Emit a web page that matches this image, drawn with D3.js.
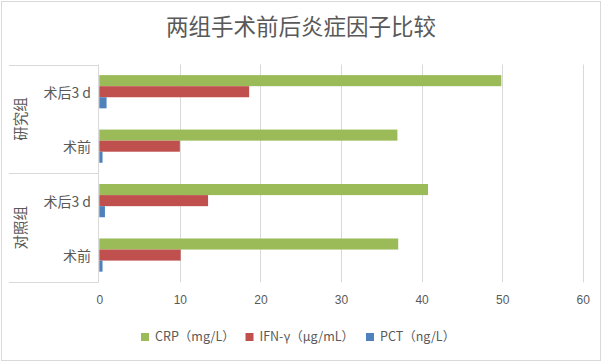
<!DOCTYPE html>
<html>
<head>
<meta charset="utf-8">
<script src="https://d3js.org/d3.v7.min.js"></script>
<style>
  body { margin: 0; background: #fff; }
  svg { font-family: "Noto Sans CJK SC", "Noto Sans", sans-serif; }
  .grid line { stroke: #d9d9d9; }
  .txt { fill: #595959; }
</style>
</head>
<body>
<div id="chart"></div>
<script>
// data (top to bottom as drawn)
var groups = ["研究组", "对照组"];
var phases = ["术后3 d", "术前"];
var seriesNames = ["CRP（mg/L）", "IFN-γ（μg/mL）", "PCT（ng/L）"];
var colors = ["#9bbb59", "#c0504d", "#4f81bd"];
var crp = [49.9, 37.0, 40.8, 37.1];
var ifn = [18.6, 10.0, 13.5, 10.1];
var pct = [0.9, 0.4, 0.7, 0.4];
var xTicks = [0, 10, 20, 30, 40, 50, 60];

var W = 602, H = 362;
var pLeft = 99.3, pRight = 582.7, pTop = 64.5, pBottom = 282.3;

var rows = [];
groups.forEach(function(g) {
  phases.forEach(function(p) { rows.push(g + "|" + p); });
});
var values = [crp, ifn, pct];

var svg = d3.select("#chart").append("svg")
  .attr("width", W).attr("height", H);

svg.append("rect")
  .attr("x", 1.5).attr("y", 1.5)
  .attr("width", W - 3).attr("height", H - 3)
  .attr("fill", "#fff").attr("stroke", "#d9d9d9");

svg.append("text")
  .attr("class", "txt")
  .attr("x", 301).attr("y", 35)
  .attr("text-anchor", "middle")
  .style("font-size", "22.5px")
  .text("两组手术前后炎症因子比较");

var x = d3.scaleLinear().domain([0, 60]).range([pLeft, pRight]);
var y = d3.scaleBand().domain(rows).range([pTop, pBottom]).paddingInner(0.39).paddingOuter(0.195);
var inner = d3.scaleBand().domain(d3.range(3)).range([0, y.bandwidth()]);

// gridlines
svg.append("g").attr("class", "grid")
  .selectAll("line").data(xTicks.slice(1)).enter()
  .append("line")
  .attr("x1", d => Math.round(x(d)) + 0.5).attr("x2", d => Math.round(x(d)) + 0.5)
  .attr("y1", pTop).attr("y2", pBottom);

// x axis labels
var xAxis = d3.axisBottom(x).tickValues(xTicks).tickSize(0).tickPadding(13);
var gx = svg.append("g").attr("transform", "translate(0," + pBottom + ")").call(xAxis);
gx.select(".domain").remove();
gx.selectAll("text").attr("class", "txt").attr("fill", null)
  .style("font-size", "12px").style("font-family", "'Liberation Sans', Arial, sans-serif");

// bars
rows.forEach(function(r, i) {
  values.forEach(function(s, k) {
    svg.append("rect")
      .attr("x", x(0))
      .attr("y", y(r) + inner(k))
      .attr("width", x(s[i]) - x(0))
      .attr("height", inner.bandwidth())
      .attr("fill", colors[k]);
  });
});

// category axis: vertical line and group boxes
var axisG = svg.append("g").attr("class", "grid");
axisG.append("line")
  .attr("x1", Math.round(pLeft) - 0.5).attr("x2", Math.round(pLeft) - 0.5)
  .attr("y1", pTop).attr("y2", pBottom);
var groupH = (pBottom - pTop) / groups.length;
d3.range(groups.length + 1).forEach(function(i) {
  var yy = Math.round(pTop + i * groupH) + 0.5;
  axisG.append("line").attr("x1", 9).attr("x2", Math.round(pLeft) - 0.5)
    .attr("y1", yy).attr("y2", yy);
});

// phase labels
rows.forEach(function(r) {
  svg.append("text").attr("class", "txt")
    .attr("x", 91)
    .attr("y", y(r) + y.bandwidth() / 2 + 1)
    .attr("dy", "0.35em")
    .attr("text-anchor", "end")
    .style("font-size", "14px")
    .text(r.split("|")[1]);
});

// group labels (rotated)
groups.forEach(function(g, i) {
  var cy = pTop + (i + 0.5) * groupH;
  svg.append("text").attr("class", "txt")
    .attr("transform", "translate(21," + cy + ") rotate(-90)")
    .attr("dy", "0.35em")
    .attr("text-anchor", "middle")
    .style("font-size", "14.5px")
    .text(g);
});

// legend
var legX = [141, 245.5, 366];
seriesNames.forEach(function(n, k) {
  var lg = svg.append("g").attr("transform", "translate(" + legX[k] + ",337)");
  lg.append("rect").attr("x", 0).attr("y", -4).attr("width", 8).attr("height", 8).attr("fill", colors[k]);
  lg.append("text").attr("class", "txt")
    .attr("x", 14).attr("dy", "0.35em")
    .style("font-size", "12.5px")
    .text(n);
});
</script>
</body>
</html>
